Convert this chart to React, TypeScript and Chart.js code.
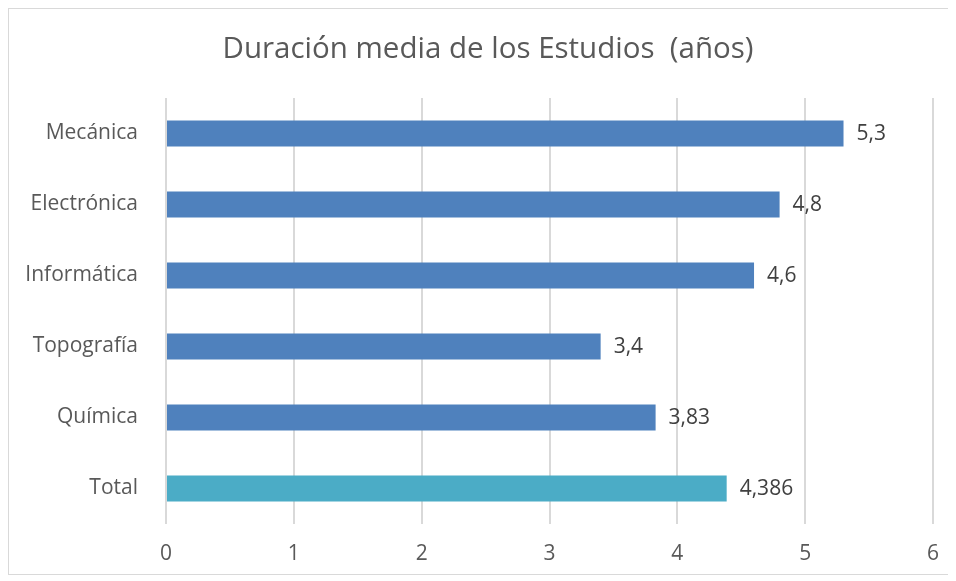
import React, { useEffect, useRef } from "react";
import { Chart, registerables } from "chart.js";

Chart.register(...registerables);

const TITLE = "Duración media de los Estudios  (años)";
const categories = ["Mecánica", "Electrónica", "Informática", "Topografía", "Química", "Total"];
const values = [5.3, 4.8, 4.6, 3.4, 3.83, 4.386];
const valueLabels = ["5,3", "4,8", "4,6", "3,4", "3,83", "4,386"];
const barColors = ["#4f81bd", "#4f81bd", "#4f81bd", "#4f81bd", "#4f81bd", "#4bacc6"];
const xTicks = [0, 1, 2, 3, 4, 5, 6];

const FONT = "'Open Sans', 'Liberation Sans', sans-serif";

const dataLabelPlugin = {
  id: "dataLabels",
  afterDatasetsDraw(chart: any) {
    const ctx = chart.ctx;
    const meta = chart.getDatasetMeta(0);
    ctx.save();
    ctx.font = `21px ${FONT}`;
    ctx.fillStyle = "#404040";
    ctx.textAlign = "left";
    ctx.textBaseline = "middle";
    meta.data.forEach((el: any, i: number) => {
      ctx.fillText(valueLabels[i], el.x + 13, el.y + 1);
    });
    ctx.restore();
  },
};

const titlePlugin = {
  id: "customTitle",
  afterDraw(chart: any) {
    const ctx = chart.ctx;
    ctx.save();
    ctx.font = `29.5px ${FONT}`;
    ctx.fillStyle = "#595959";
    ctx.textAlign = "center";
    ctx.textBaseline = "middle";
    ctx.fillText(TITLE, chart.width / 2 + 9, 41);
    ctx.restore();
  },
};

export default function App() {
  const ref = useRef<HTMLCanvasElement>(null);
  useEffect(() => {
    if (!ref.current) return;
    const chart = new Chart(ref.current, {
      type: "bar",
      data: {
        labels: categories,
        datasets: [
          {
            data: values,
            backgroundColor: barColors,
            barPercentage: 0.366,
            categoryPercentage: 1,
          },
        ],
      },
      options: {
        indexAxis: "y",
        animation: false,
        responsive: false,
        layout: { padding: { left: 0, right: 16, top: 89, bottom: 0 } },
        plugins: {
          legend: { display: false },
          tooltip: { enabled: false },
          title: { display: false },
        },
        scales: {
          x: {
            min: 0,
            max: 6,
            afterBuildTicks(scale: any) {
              scale.ticks = xTicks.map((v) => ({ value: v }));
            },
            afterFit(scale: any) {
              scale.height = 50;
              scale.paddingRight = 0;
              scale.paddingLeft = 0;
            },
            grid: { color: "#d9d9d9", lineWidth: 2, drawTicks: false },
            border: { display: false },
            ticks: {
              color: "#595959",
              font: { family: FONT, size: 21 },
              padding: 17,
            },
          },
          y: {
            afterFit(scale: any) {
              scale.width = 157;
            },
            grid: { display: false, drawTicks: false },
            border: { display: false },
            ticks: {
              color: "#595959",
              font: { family: FONT, size: 21 },
              padding: 28,
            },
          },
        },
      },
      plugins: [dataLabelPlugin, titlePlugin],
    });
    return () => chart.destroy();
  }, []);
  return (
    <div style={{ width: 940, height: 565, border: "1px solid #d9d9d9", background: "#fff" }}>
      <canvas ref={ref} width={940} height={565} style={{ display: "block" }} />
    </div>
  );
}
